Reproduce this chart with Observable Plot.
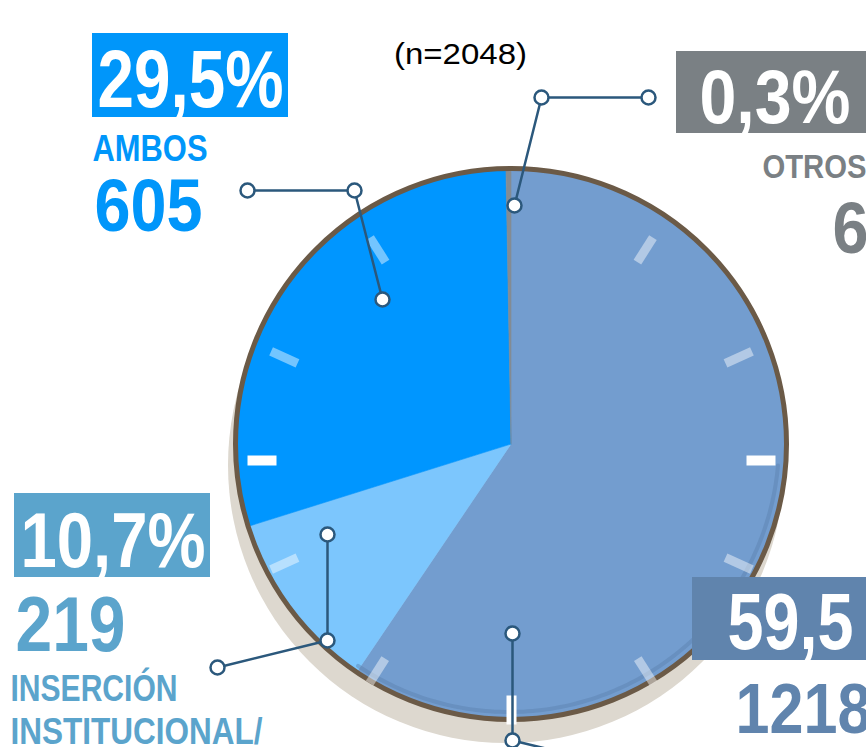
<!DOCTYPE html>
<html><head><meta charset="utf-8">
<script src="https://cdn.jsdelivr.net/npm/d3@7"></script>
<script src="https://cdn.jsdelivr.net/npm/@observablehq/plot@0.6"></script>
<style>html,body{margin:0;padding:0;background:#fff;overflow:hidden} svg{display:block}</style>
</head><body><div id="chart"></div>
<script>
// ---------- DATA ----------
const categories = ["TRABAJO", "INSERCIÓN INSTITUCIONAL/", "AMBOS", "OTROS"];
const counts = [1218, 219, 605, 6];
const nameLines = [[], ["INSERCIÓN", "INSTITUCIONAL/"], ["AMBOS"], ["OTROS"]];
const clockHours = [1, 2, 3, 4, 5, 6, 7, 8, 9, 10, 11];
const majorHours = [3, 6, 9];

// ---------- STYLES ----------
const sliceColors = ["#739dcf", "#7cc6fd", "#0096ff", "#848c93"];
const labelColors = ["#6084ad", "#5ba4cc", "#0096fa", "#7a8084"];
const ringColor = "#6b5a47";
const shadowColor = "#ddd8cf";
const leaderColor = "#2b587c";
const fontBold = "'Liberation Sans Narrow', 'Liberation Sans', Arial, sans-serif";
const fontReg = "'Liberation Sans', Arial, sans-serif";

// ---------- LAYOUT ----------
const W = 866, H = 747;
const pie = {cx: 510.5, cy: 443.5, r: 274, ring: 275.5, ringWidth: 5, shadowDx: -5, shadowDy: 21, shadowR: 278};
// dial drawn in perspective: angular offset (degrees) of each hour mark from the regular 30° grid
const dial = {cx: 511, cy: 460, r0: 235, r1: 264, width: 9};
const hourSkew = {1: 2.4, 2: 5.6, 3: 0, 4: -5.6, 5: -2.5, 6: 0, 7: 2.5, 8: 5.6, 9: 0, 10: -5.6, 11: -2.4};
const blocks = [
  {box: [692, 577, 920, 660], pct: {x: 727, y: 648, size: 79, w: 126, gap: 16}, count: {x: 735, y: 732, size: 70, w: 136}, name: null},
  {box: [14, 493, 210, 577], pct: {x: 20, y: 566, size: 78, w: 185}, count: {x: 15, y: 650, size: 77, w: 110}, name: {x: 10, y: 700, dy: 43, size: 37, w: [167, 252]}},
  {box: [92, 33, 288, 117], pct: {x: 97, y: 106, size: 81, w: 186}, count: {x: 94, y: 230, size: 74, w: 108}, name: {x: 92, y: 160, dy: 0, size: 36, w: [115]}},
  {box: [676, 51, 920, 133], pct: {x: 699, y: 122, size: 76, w: 151}, count: {x: 832, y: 252, size: 72, w: 36}, name: {x: 762, y: 177, dy: 0, size: 34, w: [104]}}
];
const callouts = [
  [[512, 633], [512, 740], [620, 766]],
  [[327, 534], [327, 640], [217, 667]],
  [[382, 299], [354, 190], [247, 190]],
  [[514, 205], [541, 97], [648, 97]]
];
const nTitle = {x: 460, y: 63, size: 30, w: 133};

// ---------- DERIVED ----------
const total = d3.sum(counts);
const fmtPct = v => d3.format(".1f")(v).replace(".", ",") + "%";
const arcs = d3.pie().sort(null).value(d => d)(counts);

const slicePts = arcs.flatMap((a, i) => {
  const name = categories[i];
  const pts = [{name, x: pie.cx, y: pie.cy}];
  const steps = Math.max(2, Math.ceil((a.endAngle - a.startAngle) / (Math.PI / 360)));
  for (let k = 0; k <= steps; k++) {
    const t = a.startAngle + (a.endAngle - a.startAngle) * k / steps;
    pts.push({name, x: pie.cx + pie.r * Math.sin(t), y: pie.cy - pie.r * Math.cos(t)});
  }
  pts.push({name, x: pie.cx, y: pie.cy});
  return pts;
});

// subtle inner darker edge (3D effect) lower right
const edgePts = d3.range(95, 215, 1).map(deg => {
  const t = deg * Math.PI / 180;
  return {x: pie.cx - 2 + 270 * Math.sin(t), y: pie.cy - 2 - 270 * Math.cos(t)};
});

const ticks = clockHours.map(h => {
  const a = (h * 30 + hourSkew[h]) * Math.PI / 180;
  return {h, major: majorHours.includes(h),
    x1: dial.cx + dial.r0 * Math.sin(a), y1: dial.cy - dial.r0 * Math.cos(a),
    x2: dial.cx + dial.r1 * Math.sin(a), y2: dial.cy - dial.r1 * Math.cos(a)};
});

const leaderPts = callouts.flatMap((c, i) => c.map(([x, y]) => ({k: i, x, y})));

const textItems = [];
const widthByText = {};
const gapByText = {};
blocks.forEach((b, i) => {
  const pct = fmtPct(counts[i] / total * 100);
  textItems.push({text: pct, x: b.pct.x, y: b.pct.y, size: b.pct.size, color: "white", font: fontBold, weight: "bold"});
  widthByText[pct] = b.pct.w;
  if (b.pct.gap) gapByText[pct] = b.pct.gap;
  const cnt = String(counts[i]);
  textItems.push({text: cnt, x: b.count.x, y: b.count.y, size: b.count.size, color: labelColors[i], font: fontBold, weight: "bold"});
  widthByText[cnt] = b.count.w;
  if (b.name) nameLines[i].forEach((ln, j) => {
    textItems.push({text: ln, x: b.name.x, y: b.name.y + j * b.name.dy, size: b.name.size, color: labelColors[i], font: fontBold, weight: "bold"});
    widthByText[ln] = b.name.w[j];
  });
});
const nText = `(n=${total})`;
widthByText[nText] = nTitle.w;

const marks = [
  // shadow
  Plot.dot([0], {x: () => pie.cx + pie.shadowDx, y: () => pie.cy + pie.shadowDy, r: pie.shadowR, fill: shadowColor, stroke: "none"}),
  // slices
  Plot.line(slicePts, {x: "x", y: "y", z: "name", fill: "name", stroke: "name", strokeWidth: 0.6, curve: "linear"}),
  Plot.line(edgePts, {x: "x", y: "y", stroke: "#5a80ad", strokeOpacity: 0.45, strokeWidth: 4}),
  // ring
  Plot.dot([0], {x: () => pie.cx, y: () => pie.cy, r: pie.ring, fill: "none", stroke: ringColor, strokeWidth: pie.ringWidth}),
  // clock ticks
  Plot.link(ticks.filter(d => !d.major), {x1: "x1", y1: "y1", x2: "x2", y2: "y2", stroke: "white", strokeOpacity: 0.45, strokeWidth: dial.width}),
  Plot.link(ticks.filter(d => d.major), {x1: "x1", y1: "y1", x2: "x2", y2: "y2", stroke: "white", strokeWidth: dial.width + 1}),
  // leaders
  Plot.line(leaderPts, {x: "x", y: "y", z: "k", stroke: leaderColor, strokeWidth: 2.5}),
  Plot.dot(leaderPts, {x: "x", y: "y", r: 7, fill: "white", stroke: leaderColor, strokeWidth: 2.5}),
  // label boxes
  ...blocks.map((b, i) => Plot.rect([b], {x1: d => d.box[0], y1: d => d.box[1], x2: d => d.box[2], y2: d => d.box[3], fill: labelColors[i]})),
  // texts
  ...textItems.map(t => Plot.text([t], {x: "x", y: "y", text: "text", fontSize: t.size, fill: t.color, fontFamily: t.font, fontWeight: t.weight, textAnchor: "start", lineAnchor: "bottom"})),
  Plot.text([nText], {x: () => nTitle.x, y: () => nTitle.y, text: d => d, fontSize: nTitle.size, fill: "black", fontFamily: fontReg, textAnchor: "middle", lineAnchor: "bottom"})
];

const chart = Plot.plot({
  width: W, height: H, margin: 0,
  x: {domain: [0, W], range: [0, W], axis: null},
  y: {domain: [0, H], range: [0, H], axis: null},
  color: {domain: categories, range: sliceColors},
  style: {background: "white"},
  marks
});

d3.select(chart).selectAll("text").each(function () {
  const txt = this.textContent;
  const w = widthByText[txt];
  if (!w) return;
  const gap = gapByText[txt];
  if (gap) {
    // number part squeezed to its width, "%" sign set apart
    this.textContent = "";
    const ns = "http://www.w3.org/2000/svg";
    const a = document.createElementNS(ns, "tspan");
    a.textContent = txt.slice(0, -1);
    a.setAttribute("textLength", w); a.setAttribute("lengthAdjust", "spacingAndGlyphs");
    const b = document.createElementNS(ns, "tspan");
    b.textContent = txt.slice(-1);
    b.setAttribute("dx", gap);
    this.appendChild(a); this.appendChild(b);
  } else {
    this.setAttribute("textLength", w); this.setAttribute("lengthAdjust", "spacingAndGlyphs");
  }
});
document.getElementById("chart").appendChild(chart);
</script>
</body></html>
